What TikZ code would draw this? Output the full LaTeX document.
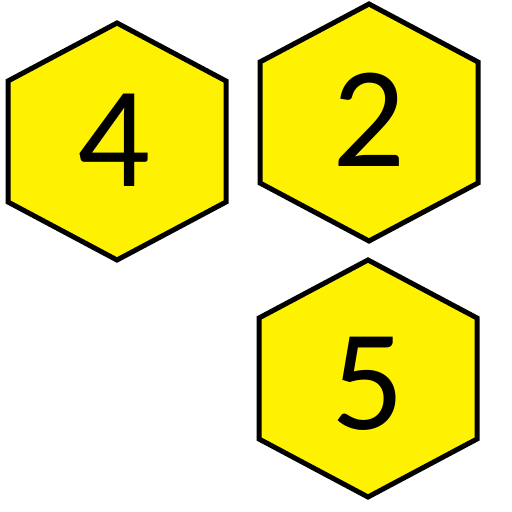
\documentclass[tikz,border=0pt]{standalone}
\usepackage{fontspec}
\setsansfont{Carlito}
\usepackage{xcolor}
\definecolor{hxyellow}{HTML}{FFF200}
\usepackage{tikz}
\usetikzlibrary{positioning}
\tikzset{
  every picture/.style={line join=miter},
  hexcell/.style={fill=hxyellow, draw=black, line width=5pt},
  digit/.style={font=\sffamily\fontsize{144}{144}\selectfont, text=black, inner sep=0pt},
}
\begin{document}
\begin{tikzpicture}[x=1pt, y=-1pt]
\useasboundingbox (0,0) rectangle (512,512);
% the three cells
\foreach \cx/\cy in {117/141, 369/122, 368/378} {
  \draw[hexcell] (\cx,\cy-118) -- (\cx+109,\cy-60) -- (\cx+109,\cy+61)
    -- (\cx,\cy+119) -- (\cx-109,\cy+61) -- (\cx-109,\cy-60) -- cycle;
}
% numbers
\node[digit] (n4) at (114,140) {4};
\node[digit] (n2) at (369,120) {2};
\node[digit] (n5) at (368,384) {5};
\end{tikzpicture}
\end{document}
